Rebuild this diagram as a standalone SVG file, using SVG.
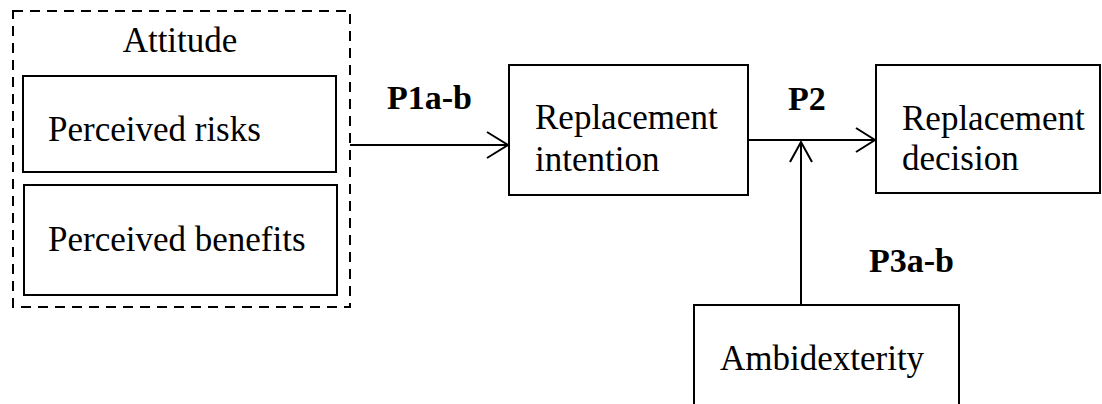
<svg xmlns="http://www.w3.org/2000/svg" width="1102" height="404" viewBox="0 0 1102 404">
<style>
.box{fill:#fff;stroke:#000;stroke-width:2}
.dash{fill:none;stroke:#000;stroke-width:2;stroke-dasharray:10 7}
.t{font-family:"Liberation Serif","Times New Roman",serif;font-size:35px;fill:#000}
.b{font-family:"Liberation Serif","Times New Roman",serif;font-size:34px;font-weight:bold;fill:#000}
.line{fill:none;stroke:#000;stroke-width:2}
</style>
<rect width="1102" height="404" fill="#fff"/>
<g id="attitude">
<rect class="dash" x="13" y="11" width="337" height="296"/>
<text class="t" x="180" y="52" text-anchor="middle">Attitude</text>
</g>
<g id="perceived-risks">
<rect class="box" x="23" y="76" width="313" height="96"/>
<text class="t" x="48" y="141">Perceived risks</text>
</g>
<g id="perceived-benefits">
<rect class="box" x="24" y="185" width="313" height="110"/>
<text class="t" x="48" y="251">Perceived benefits</text>
</g>
<g id="replacement-intention">
<rect class="box" x="509" y="65" width="239" height="130"/>
<text class="t" x="535" y="129">Replacement</text>
<text class="t" x="535" y="171">intention</text>
</g>
<g id="replacement-decision">
<rect class="box" x="876" y="65" width="224" height="128"/>
<text class="t" x="902" y="130">Replacement</text>
<text class="t" x="902" y="170">decision</text>
</g>
<g id="ambidexterity">
<rect class="box" x="694" y="305" width="265" height="110"/>
<text class="t" x="720" y="370">Ambidexterity</text>
</g>
<g id="connectors">
<path class="line" d="M350 145 H508 M487 132 L508 145 L487 158"/>
<path class="line" d="M748 140 H875 M856 128 L875 140 L856 152"/>
<path class="line" d="M801 305 V142 M790 162 L801 142 L812 162"/>
<text class="b" x="387" y="109">P1a-b</text>
<text class="b" x="788" y="110">P2</text>
<text class="b" x="869" y="272">P3a-b</text>
</g>
</svg>
